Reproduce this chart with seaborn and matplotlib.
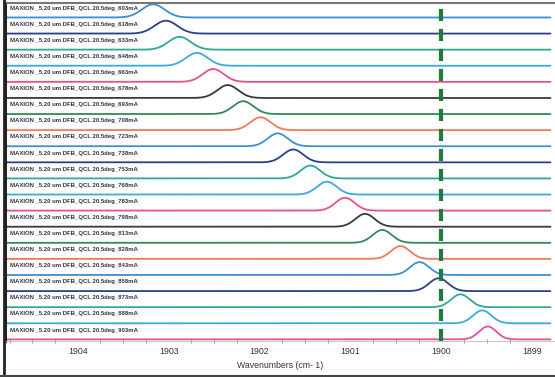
import numpy as np
import pandas as pd
import matplotlib
matplotlib.use("Agg")
import matplotlib.pyplot as plt
from matplotlib.lines import Line2D
import seaborn as sns

# ---- data ----
currents_mA = [603, 618, 633, 648, 663, 678, 693, 708, 723, 738, 753,
               768, 783, 798, 813, 828, 843, 858, 873, 888, 903]
peak_wavenumber = [1903.17, 1903.03, 1902.88, 1902.69, 1902.51, 1902.35, 1902.18,
                   1901.99, 1901.80, 1901.63, 1901.44, 1901.26, 1901.06, 1900.84,
                   1900.65, 1900.45, 1900.24, 1900.03, 1899.79, 1899.55, 1899.49]
peak_height = [0.82, 0.80, 0.80, 0.80, 0.80, 0.80, 0.80, 0.80, 0.80, 0.80, 0.80,
               0.80, 0.80, 0.80, 0.80, 0.80, 0.80, 0.80, 0.80, 0.80, 0.80]
peak_sigma = [0.125, 0.125, 0.122, 0.12, 0.115, 0.115, 0.112, 0.112, 0.11, 0.11, 0.108,
              0.108, 0.106, 0.106, 0.105, 0.104, 0.104, 0.104, 0.102, 0.10, 0.095]
trace_colors = ["#3b8fd4", "#2b3f8c", "#2fa89a", "#3aaae0", "#e8508c", "#3a3a3a",
                "#2e8b57", "#f07a5a"]
xticks = [1904, 1903, 1902, 1901, 1900, 1899]
reference_line = 1900
labels = [f"MAXION _5.20 um DFB_QCL 20.5deg_{c}mA" for c in currents_mA]

# ---- build long table ----
wn = np.linspace(1904.9, 1898.8, 1500)
rows = []
for i, (lab, c0, h, s) in enumerate(zip(labels, peak_wavenumber, peak_height, peak_sigma)):
    y = -i + h * np.exp(-0.5 * ((wn - c0) / s) ** 2)
    rows.append(pd.DataFrame({"wn": wn, "y": y, "label": lab}))
df = pd.concat(rows, ignore_index=True)
palette = [trace_colors[i % len(trace_colors)] for i in range(len(labels))]

sns.set_style("white")
plt.rcParams["font.family"] = ["Liberation Sans", "DejaVu Sans"]

fig = plt.figure(figsize=(5.55, 3.77), dpi=100)
ax = fig.add_axes([5 / 555, 1 - 341 / 377, 1 - 5 / 555, (341 - 3) / 377])

sns.lineplot(data=df, x="wn", y="y", hue="label", hue_order=labels, palette=palette,
             estimator=None, sort=False, legend=False, lw=1.3, ax=ax)

ax.axvline(reference_line, color="#1e7b3c", lw=3.0, dashes=(2.9, 1.9), zorder=10)

ax.set_xlim(1904.80, 1898.85)
ax.set_ylim(-20.1, 0.90)
ax.set_yticks([])
ax.set_xticks(xticks)
ax.set_xticklabels([str(t) for t in xticks])
ax.set_xticks(np.arange(1898.75, 1905.0, 0.25), minor=True)
ax.tick_params(axis="x", which="major", direction="inout", length=4, width=0.8,
               color="#666666", labelsize=6.3, labelcolor="#333333", pad=2)
ax.tick_params(axis="x", which="minor", direction="inout", length=2.5, width=0.6,
               color="#888888", bottom=True)
ax.set_xlabel("Wavenumbers (cm- 1)", fontsize=6.3, color="#333333", labelpad=4)
ax.set_ylabel("")

for i, lab in enumerate(labels):
    ax.text(0.01, -i + 0.58, lab, transform=ax.get_yaxis_transform(),
            fontsize=4.3, fontweight="bold", color="#333344", va="center", ha="left")

ax.spines["right"].set_visible(False)
ax.spines["left"].set_color("#222222")
ax.spines["left"].set_linewidth(2.2)
ax.spines["top"].set_color("#777777")
ax.spines["top"].set_linewidth(1.5)
ax.spines["bottom"].set_color("#bbbbbb")
ax.spines["bottom"].set_linewidth(0.6)

# scan frame lines along left and bottom edges
fig.add_artist(Line2D([4 / 555, 4 / 555], [0, 1], transform=fig.transFigure,
                      color="#222222", lw=2.0))
fig.add_artist(Line2D([0, 1], [1.5 / 377, 1.5 / 377], transform=fig.transFigure,
                      color="#444444", lw=1.5))

fig.savefig("out.png", dpi=100)
